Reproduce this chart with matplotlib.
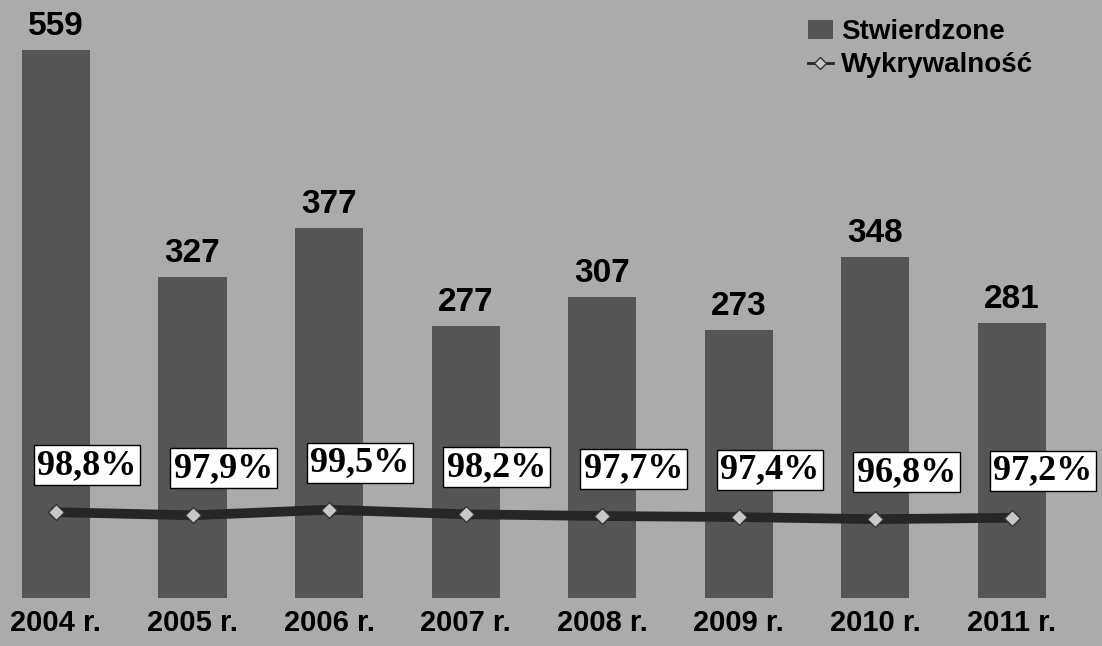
import matplotlib
matplotlib.use("Agg")
import matplotlib.pyplot as plt
import numpy as np

years = ["2004 r.", "2005 r.", "2006 r.", "2007 r.", "2008 r.", "2009 r.", "2010 r.", "2011 r."]
stwierdzone = [559, 327, 377, 277, 307, 273, 348, 281]
wykrywalnosc = [98.8, 97.9, 99.5, 98.2, 97.7, 97.4, 96.8, 97.2]

bg = "#ababab"
bar_color = "#555555"

fig = plt.figure(figsize=(11.02, 6.46), dpi=100, facecolor=bg)
ax = fig.add_axes([0, 48 / 646, 1, 598 / 646])
ax.set_facecolor(bg)

x = np.arange(len(years))
bars = ax.bar(x, stwierdzone, width=0.5, color=bar_color, label="Stwierdzone", zorder=2)
for xi, v in zip(x, stwierdzone):
    ax.annotate(str(v), (xi, v), xytext=(0, 8), textcoords="offset pixels",
                ha="center", va="bottom", fontsize=24, fontweight="bold",
                family="Liberation Sans", color="black")

ax.set_xlim(-0.41, 7.66)
ax.set_ylim(0, 610)
ax.set_xticks(x)
ax.set_xticklabels(years, fontsize=21, fontweight="bold", family="Liberation Sans")
ax.tick_params(axis="x", length=0, pad=8)
ax.set_yticks([])
for s in ax.spines.values():
    s.set_visible(False)

ax2 = ax.twinx()
ax2.set_ylim(74.3, 245)
line, = ax2.plot(x, wykrywalnosc, "-", color="#262626", lw=7, marker="D", ms=8,
                 markerfacecolor="#c8c8c8", markeredgecolor="#333333",
                 label="Wykrywalność", zorder=3)
for xi, v in zip(x, wykrywalnosc):
    ax2.annotate(("%.1f%%" % v).replace(".", ","), (xi, v), xytext=(31, 47),
                 textcoords="offset pixels", ha="center", va="center",
                 fontsize=26, fontweight="bold", family="Liberation Serif",
                 bbox=dict(boxstyle="square,pad=0.1", fc="white", ec="black", lw=1))
ax2.set_yticks([])
for s in ax2.spines.values():
    s.set_visible(False)

leg = ax2.legend([bars, line], ["Stwierdzone", "Wykrywalność"], loc="upper right",
                 bbox_to_anchor=(0.955, 1.0), frameon=False,
                 prop=dict(family="Liberation Sans", weight="bold", size=20),
                 handlelength=0.9, handletextpad=0.3, labelspacing=0.25, borderaxespad=0.3)
leg.legend_handles[1].set_linewidth(2)
leg.legend_handles[1].set_markersize(6)

fig.savefig("out.png", dpi=100, facecolor=bg)
